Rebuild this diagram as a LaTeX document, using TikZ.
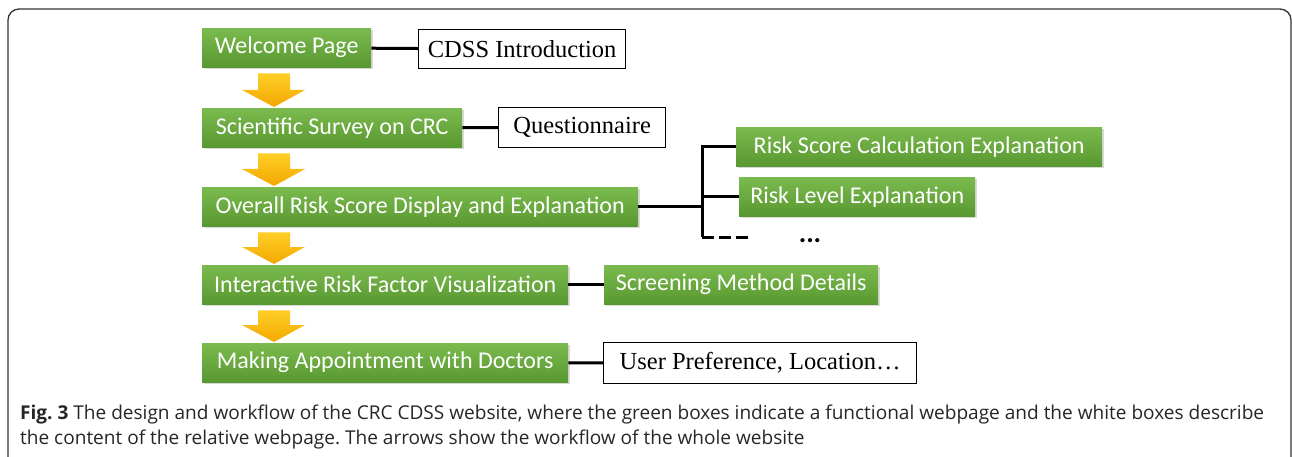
\documentclass[tikz,border=0pt]{standalone}
\usepackage{fontspec}
\setmainfont{Liberation Serif}
\newfontfamily\calibri{Carlito}
\newfontfamily\capfont{Open Sans}
\usetikzlibrary{calc,shadows}
\frenchspacing

\definecolor{pagetop}{RGB}{122,186,78}
\definecolor{pagebot}{RGB}{88,152,48}
\definecolor{flowtop}{RGB}{255,206,40}
\definecolor{flowbot}{RGB}{242,168,0}

\tikzset{
  page/.style={anchor=north west, top color=pagetop, bottom color=pagebot,
    text=white, font=\calibri\fontsize{24}{28}\selectfont,
    minimum height=39pt, inner sep=0pt,
    drop shadow={opacity=0.3, shadow xshift=1.5pt, shadow yshift=-2pt}},
  content/.style={anchor=north west, draw=black, line width=1.3pt, fill=white,
    font=\fontsize{24.5}{28}\selectfont, minimum height=39pt, inner sep=0pt},
  link/.style={line width=3pt},
  caption/.style={anchor=base west, inner sep=0pt, text=black!85,
    font=\capfont\fontsize{19.05}{25}\selectfont},
}

\begin{document}
\begin{tikzpicture}[x=1pt, y=-1pt]
  \useasboundingbox (0,0) rectangle (1292,457);
  \draw[black!80, line width=1.3pt, rounded corners=11pt] (8,480) -- (8,9) -- (1291,9) -- (1291,480);

  % webpages
  \node[page, minimum width=169pt] (welcome) at (202,28) {Welcome Page};
  \node[page, minimum width=260pt] (survey) at (202,108) {Scientific Survey on CRC};
  \node[page, minimum width=436pt] (score) at (202,187) {Overall Risk Score Display and Explanation};
  \node[page, minimum width=366pt] (visual) at (202,265) {Interactive Risk Factor Visualization};
  \node[page, minimum width=366pt] (doctor) at (202,343) {Making Appointment with Doctors};
  \node[page, minimum width=366pt] (calc) at (736,127) {Risk Score Calculation Explanation};
  \node[page, minimum width=236pt] (level) at (739,177) {Risk Level Explanation};
  \node[page, minimum width=274pt] (screen) at (604,265) {Screening Method Details};

  % contents
  \node[content, minimum width=207pt] (intro) at (418,29) {CDSS Introduction};
  \node[content, minimum width=167pt, minimum height=40pt] (quest) at (498,107) {Questionnaire};
  \node[content, minimum width=313pt, minimum height=41pt] (pref) at (603,342) {User Preference, Location\dots};

  % workflow arrows
  \foreach \a/\b in {welcome/survey, survey/score, score/visual, visual/doctor}
    \path[top color=flowtop, bottom color=flowbot] let \p1=(\a.south west), \p2=(\b.north west) in
      (\x1+56,\y1-6) -- (\x1+88,\y1-6) -- (\x1+88,\y2+18) -- (\x1+103,\y2+18)
      -- (\x1+72,\y2+1) -- (\x1+40,\y2+18) -- (\x1+56,\y2+18) -- cycle;

  % links
  \draw[link] (welcome) -- (intro);
  \draw[link] (survey) -- (quest);
  \coordinate (fork) at ($(score.east)+(64,0)$);
  \draw[link] (score) -- (fork);
  \draw[link] (calc.west) -| (fork);
  \draw[link] (level.west) -- (level.west -| fork);
  \coordinate (tail) at (750,237);
  \draw[link] (fork) -- (fork |- tail);
  \draw[link, dash pattern=on 12pt off 5pt] (fork |- tail) -- (tail);
  \node[anchor=base, inner sep=0pt, font=\calibri\bfseries\fontsize{28}{30}\selectfont] (more) at (810,242) {...};
  \draw[link] (visual) -- (screen);
  \draw[link] (doctor) -- (pref);

  % caption
  \node[caption] (capone) at (20,419) {\textbf{Fig. 3} The design and workflow of the CRC CDSS website, where the green boxes indicate a functional webpage and the white boxes describe};
  \node[caption] (captwo) at (20,444) {the content of the relative webpage. The arrows show the workflow of the whole website};
\end{tikzpicture}
\end{document}
